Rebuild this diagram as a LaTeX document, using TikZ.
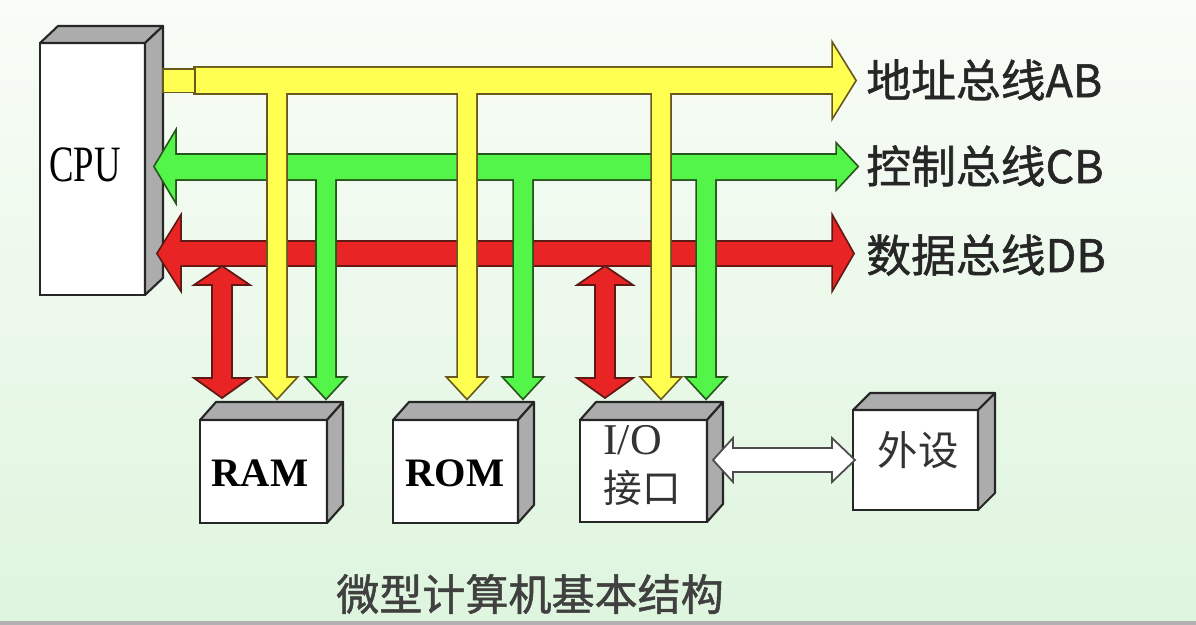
\documentclass[tikz,border=0pt]{standalone}
\usepackage{fontspec}
\usepackage{graphicx}
\setmainfont{Liberation Serif}
\newfontfamily\cjk{Noto Sans CJK SC}
\newfontfamily\cjkb{Noto Sans CJK SC}[FakeBold=1.2]
\definecolor{ybus}{RGB}{255,255,82}
\definecolor{gbus}{RGB}{82,245,72}
\definecolor{rbus}{RGB}{232,36,36}
\definecolor{yedge}{RGB}{105,88,30}
\definecolor{gedge}{RGB}{40,85,30}
\definecolor{redge}{RGB}{95,25,20}
\definecolor{sidegray}{RGB}{172,172,172}
\definecolor{bgtop}{RGB}{249,252,247}
\definecolor{bgbot}{RGB}{222,245,222}
\tikzset{
  face/.style={draw=black!85, line width=1.2pt, fill=white, inner sep=0pt, outer sep=0pt},
  depthpart/.style={fill=sidegray, draw=black!85, line width=1.2pt, line join=round},
  buslabel/.style={font=\cjkb\fontsize{25.5}{28}\selectfont, text=black!85, anchor=west, inner sep=0pt},
}
\newcommand\boxdepth[3]{%
  \path[depthpart] (#1.north west) -- ([shift={(#2,#3)}]#1.north west) -- ([shift={(#2,#3)}]#1.north east) -- (#1.north east) -- cycle;
  \path[depthpart] (#1.north east) -- ([shift={(#2,#3)}]#1.north east) -- ([shift={(#2,#3)}]#1.south east) -- (#1.south east) -- cycle;
}
\begin{document}
\begin{tikzpicture}[x=0.02cm,y=-0.02cm]
\shade[top color=bgtop, bottom color=bgbot] (0,0) rectangle (1196,625);
\useasboundingbox (0,0) rectangle (1196,625);
\fill[black!30] (0,621) rectangle (1196,625);

% CPU
\node[face, minimum width=2.10cm, minimum height=5.04cm] (cpu) at (92.5,169) {};
\node (cputext) at (85,165) {\scalebox{0.72}[1]{\fontsize{29}{30}\selectfont CPU}};
\boxdepth{cpu}{18}{-17}

% boxes
\node[face, minimum width=2.54cm, minimum height=2.06cm] (ram) at (263.5,471.5) {};
\node[face, minimum width=2.50cm, minimum height=2.06cm] (rom) at (455.5,471.5) {};
\node[face, minimum width=2.54cm, minimum height=2.04cm] (io) at (643.5,471) {};
\node[face, minimum width=2.50cm, minimum height=2.00cm] (ext) at (915.5,460) {};

\node[font=\bfseries\fontsize{23}{26}\selectfont] (ramtext) at (260,473) {RAM};
\node[font=\bfseries\fontsize{23}{26}\selectfont] (romtext) at (455,473) {ROM};
\node[font=\fontsize{25}{28}\selectfont, text=black!80, anchor=west, inner sep=0pt] (iotext) at (603,440) {I/O};
\node[font=\cjk\fontsize{22}{26}\selectfont, text=black!80, anchor=west, inner sep=0pt] (iotext2) at (603,488) {接口};
\node[font=\cjk\fontsize{23}{26}\selectfont, text=black!80] (exttext) at (918,450) {外设};

\boxdepth{ram}{16}{-18}
\boxdepth{rom}{16}{-18}
\boxdepth{io}{16}{-18}
\boxdepth{ext}{17}{-17}

% data bus (red)
\def\redbus{(180,242) -- (833,242) -- (833,218) -- (853,253.5) -- (833,288) -- (833,265) -- (180,265) -- (180,288) -- (158,253.5) -- (180,218) -- cycle}
\path[draw=redge, line width=2pt, line join=miter] \redbus;
\path[fill=rbus] \redbus;
\foreach \x in {222,605} {
  \filldraw[fill=rbus, draw=redge, line width=1pt, line join=miter]
    (\x,266) -- (\x+28,285) -- (\x+10,285) -- (\x+10,378) -- (\x+28,378) -- (\x,398)
    -- (\x-28,378) -- (\x-10,378) -- (\x-10,285) -- (\x-28,285) -- cycle;
}

% control bus (green)
\def\greenbus{(175,155) -- (837,155) -- (837,145) -- (857,166.5) -- (837,188) -- (837,179) -- (175,179) -- (175,200) -- (155,166.5) -- (175,133) -- cycle}
\def\greendrops{foreach \x in {326,523,706} { (\x-9,172) -- (\x-9,378) -- (\x-18.5,378) -- (\x,398) -- (\x+18.5,378) -- (\x+9,378) -- (\x+9,172) -- cycle }}
\path[draw=gedge, line width=2pt, line join=miter] \greenbus \greendrops;
\path[fill=gbus] \greenbus;
\path[fill=gbus] \greendrops;

% address bus (yellow)
\def\yellowbus{(195,68) -- (833,68) -- (833,45) -- (855,80.5) -- (833,116) -- (833,93) -- (195,93) -- cycle}
\def\yellowdrops{foreach \x in {277,467,661} { (\x-9,85) -- (\x-9,378) -- (\x-18.5,378) -- (\x,398) -- (\x+18.5,378) -- (\x+9,378) -- (\x+9,85) -- cycle }}
\path[draw=yedge, line width=2pt, line join=miter] \yellowbus \yellowdrops;
\path[fill=ybus] \yellowbus;
\path[fill=ybus] \yellowdrops;
\filldraw[fill=ybus, draw=yedge, line width=1pt] (163,69) rectangle (195,92.5);

% I/O <-> peripheral
\filldraw[fill=white, draw=black!70, line width=1pt, line join=miter]
  (713,460) -- (733,438) -- (733,448) -- (832,448) -- (832,438) -- (855,460)
  -- (832,482) -- (832,472) -- (733,472) -- (733,482) -- cycle;

% labels
\node[buslabel] (ab) at (866,80) {地址总线AB};
\node[buslabel] (cb) at (866,166) {控制总线CB};
\node[buslabel] (db) at (866,255) {数据总线DB};
\node[font=\cjkb\fontsize{24.5}{28}\selectfont, text=black!75] (title) at (530,594) {微型计算机基本结构};
\end{tikzpicture}
\end{document}
